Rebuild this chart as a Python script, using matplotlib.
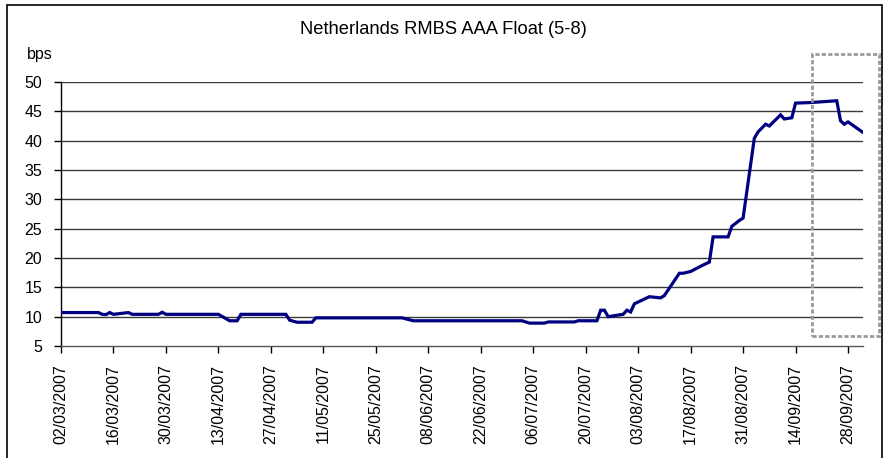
import datetime as dt

import matplotlib
matplotlib.use("Agg")
import matplotlib.pyplot as plt
import matplotlib.dates as mdates
from matplotlib.patches import Rectangle

# spread readings (bps)
dates = [
    "02/03/2007", "12/03/2007", "13/03/2007", "14/03/2007", "15/03/2007",
    "16/03/2007", "20/03/2007", "21/03/2007", "28/03/2007", "29/03/2007",
    "30/03/2007", "13/04/2007", "16/04/2007", "18/04/2007", "19/04/2007",
    "01/05/2007", "02/05/2007", "04/05/2007", "08/05/2007", "09/05/2007",
    "01/06/2007", "04/06/2007", "03/07/2007", "05/07/2007", "09/07/2007",
    "10/07/2007", "17/07/2007", "18/07/2007", "23/07/2007", "24/07/2007",
    "25/07/2007", "26/07/2007", "30/07/2007", "31/07/2007", "01/08/2007",
    "02/08/2007", "06/08/2007", "09/08/2007", "10/08/2007", "14/08/2007",
    "15/08/2007", "17/08/2007", "20/08/2007", "22/08/2007", "23/08/2007",
    "27/08/2007", "28/08/2007", "30/08/2007", "31/08/2007", "03/09/2007",
    "04/09/2007", "06/09/2007", "07/09/2007", "10/09/2007", "11/09/2007",
    "13/09/2007", "14/09/2007", "18/09/2007", "25/09/2007", "26/09/2007",
    "27/09/2007", "28/09/2007", "02/10/2007",
]
spread = [
    10.7, 10.7, 10.4, 10.35, 10.7,
    10.4, 10.7, 10.4, 10.4, 10.75,
    10.4, 10.4, 9.3, 9.3, 10.4,
    10.4, 9.4, 9.05, 9.05, 9.8,
    9.8, 9.3, 9.3, 8.9, 8.9,
    9.1, 9.1, 9.3, 9.3, 11.1,
    11.1, 10.0, 10.4, 11.1, 10.8,
    12.2, 13.4, 13.2, 13.6, 17.4,
    17.4, 17.7, 18.7, 19.3, 23.6,
    23.6, 25.4, 26.4, 26.8, 40.4,
    41.5, 42.8, 42.5, 44.4, 43.7,
    43.9, 46.4, 46.5, 46.8, 43.4,
    42.8, 43.2, 41.4,
]
y_ticks = [5, 10, 15, 20, 25, 30, 35, 40, 45, 50]

x = [dt.datetime.strptime(d, "%d/%m/%Y") for d in dates]
start = x[0]
end = dt.datetime(2007, 10, 2)

plt.rcParams["font.family"] = ["Liberation Sans", "DejaVu Sans"]

fig = plt.figure(figsize=(8.84, 4.58), dpi=100)
ax = fig.add_axes([61 / 884, 1 - 346 / 458, 802 / 884, 264 / 458])

ax.plot(x, spread, color="#000080", lw=2.3, solid_joinstyle="miter", zorder=3)

ax.set_xlim(start, end)
ax.set_ylim(5, 50)
ax.set_yticks(y_ticks)
for v in y_ticks[1:]:
    ax.axhline(v, color="#3a3a3a", lw=1.0, zorder=1)

ticks = [start + dt.timedelta(days=14 * i) for i in range(16)]
ax.set_xticks(ticks)
ax.xaxis.set_major_formatter(mdates.DateFormatter("%d/%m/%Y"))
ax.tick_params(axis="x", direction="out", length=5, width=1, labelrotation=90,
               labelsize=11.5, pad=8)
ax.tick_params(axis="y", direction="out", length=5, width=1, labelsize=11.5, pad=8.5)

for s in ("top", "right"):
    ax.spines[s].set_visible(False)
ax.spines["left"].set_linewidth(1)
ax.spines["bottom"].set_linewidth(1)
ax.spines["bottom"].set_color("#555555")

fig.text(0.502, 1 - 30 / 458, "Netherlands RMBS AAA Float (5-8)", ha="center",
         va="center", fontsize=13.2)
fig.text(27 / 884, 1 - 55 / 458, "bps", ha="left", va="center", fontsize=11.5)

# dashed highlight box over the last weeks
box = Rectangle((dt.datetime(2007, 9, 18, 12), 6.7), dt.timedelta(days=17.9), 48.1,
                fill=False, ec="#9a9a9a", lw=2.0, ls=(0, (1.5, 0.8)), clip_on=False,
                zorder=4)
ax.add_patch(box)

# chart frame (bottom edge runs off the picture)
fig.add_artist(Rectangle((7 / 884, -0.02), 875 / 884, 1 - 5 / 458 + 0.02,
                         transform=fig.transFigure, fill=False, ec="black", lw=1.2))

fig.savefig("out.png", dpi=100)
